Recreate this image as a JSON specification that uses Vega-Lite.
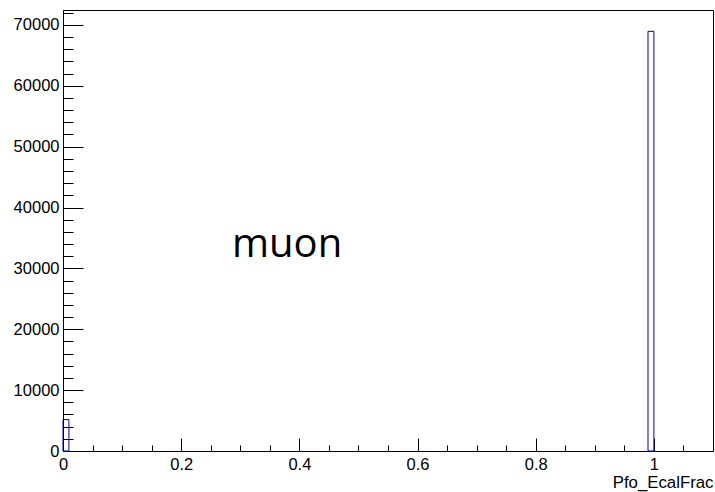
{
  "$schema": "https://vega.github.io/schema/vega-lite/v6.json",
  "width": 650,
  "height": 441,
  "autosize": {"type": "none"},
  "padding": {"left": 63, "top": 10, "right": 2, "bottom": 41},
  "background": "white",
  "config": {
    "view": {"stroke": "black", "strokeWidth": 1},
    "axis": {
      "labelFont": "Liberation Sans",
      "titleFont": "Liberation Sans",
      "labelFontSize": 16.5,
      "labelColor": "black",
      "tickColor": "black",
      "domainColor": "black",
      "grid": false,
      "labelFlush": false,
      "labelOverlap": false
    }
  },
  "datasets": {
    "hist": [
      {"bin_start": 0.0, "bin_end": 0.01, "count": 5160},
      {"bin_start": 0.99, "bin_end": 1.0, "count": 68950}
    ],
    "note": [
      {"label": "muon", "x": 0.286, "y": 31800}
    ]
  },
  "layer": [
    {
      "data": {"name": "hist"},
      "mark": {"type": "rect", "filled": false, "stroke": "#0000aa", "strokeWidth": 1},
      "encoding": {
        "x": {
          "field": "bin_start", "type": "quantitative",
          "scale": {"domain": [0, 1.1], "nice": false, "zero": false},
          "axis": {
            "orient": "bottom",
            "values": [0, 0.2, 0.4, 0.6, 0.8, 1.0],
            "format": ".1~f",
            "tickSize": -13,
            "labelPadding": 18,
            "domainWidth": 1,
            "title": "Pfo_EcalFrac",
            "titleFont": "Liberation Sans",
            "titleFontSize": 16.8,
            "titleFontWeight": "normal",
            "titleColor": "black",
            "titleAlign": "right",
            "titleAnchor": "end",
            "titleBaseline": "alphabetic",
            "titleX": 650,
            "titleY": 36
          }
        },
        "x2": {"field": "bin_end"},
        "y": {
          "field": "count", "type": "quantitative",
          "scale": {"domain": [0, 72450], "nice": false, "zero": true},
          "axis": {
            "orient": "left",
            "values": [0, 10000, 20000, 30000, 40000, 50000, 60000, 70000],
            "format": "d",
            "tickSize": -20,
            "labelPadding": 24,
            "title": null
          }
        },
        "y2": {"datum": 0}
      }
    },
    {
      "data": {"name": "hist"},
      "mark": {"type": "rule", "opacity": 0},
      "encoding": {
        "x": {
          "field": "bin_start", "type": "quantitative",
          "scale": {"domain": [0, 1.1], "nice": false, "zero": false},
          "axis": {
            "orient": "bottom",
            "values": [0.05, 0.1, 0.15, 0.25, 0.3, 0.35, 0.45, 0.5, 0.55, 0.65, 0.7, 0.75, 0.85, 0.9, 0.95, 1.05],
            "tickSize": -6,
            "labels": false,
            "domain": false,
            "title": null
          }
        },
        "y": {
          "field": "count", "type": "quantitative",
          "scale": {"domain": [0, 72450], "nice": false, "zero": true},
          "axis": {
            "orient": "left",
            "values": [2000, 4000, 6000, 8000, 12000, 14000, 16000, 18000, 22000, 24000, 26000, 28000, 32000, 34000, 36000, 38000, 42000, 44000, 46000, 48000, 52000, 54000, 56000, 58000, 62000, 64000, 66000, 68000, 72000],
            "tickSize": -10,
            "labels": false,
            "domain": false,
            "title": null
          }
        }
      }
    },
    {
      "data": {"name": "note"},
      "mark": {"type": "text", "font": "Open Sans", "fontSize": 40, "align": "left", "baseline": "alphabetic", "color": "black"},
      "encoding": {
        "text": {"field": "label"},
        "x": {"field": "x", "type": "quantitative", "scale": {"domain": [0, 1.1], "nice": false, "zero": false}, "axis": null},
        "y": {"field": "y", "type": "quantitative", "scale": {"domain": [0, 72450], "nice": false, "zero": true}, "axis": null}
      }
    }
  ],
  "resolve": {"axis": {"x": "independent", "y": "independent"}}
}
